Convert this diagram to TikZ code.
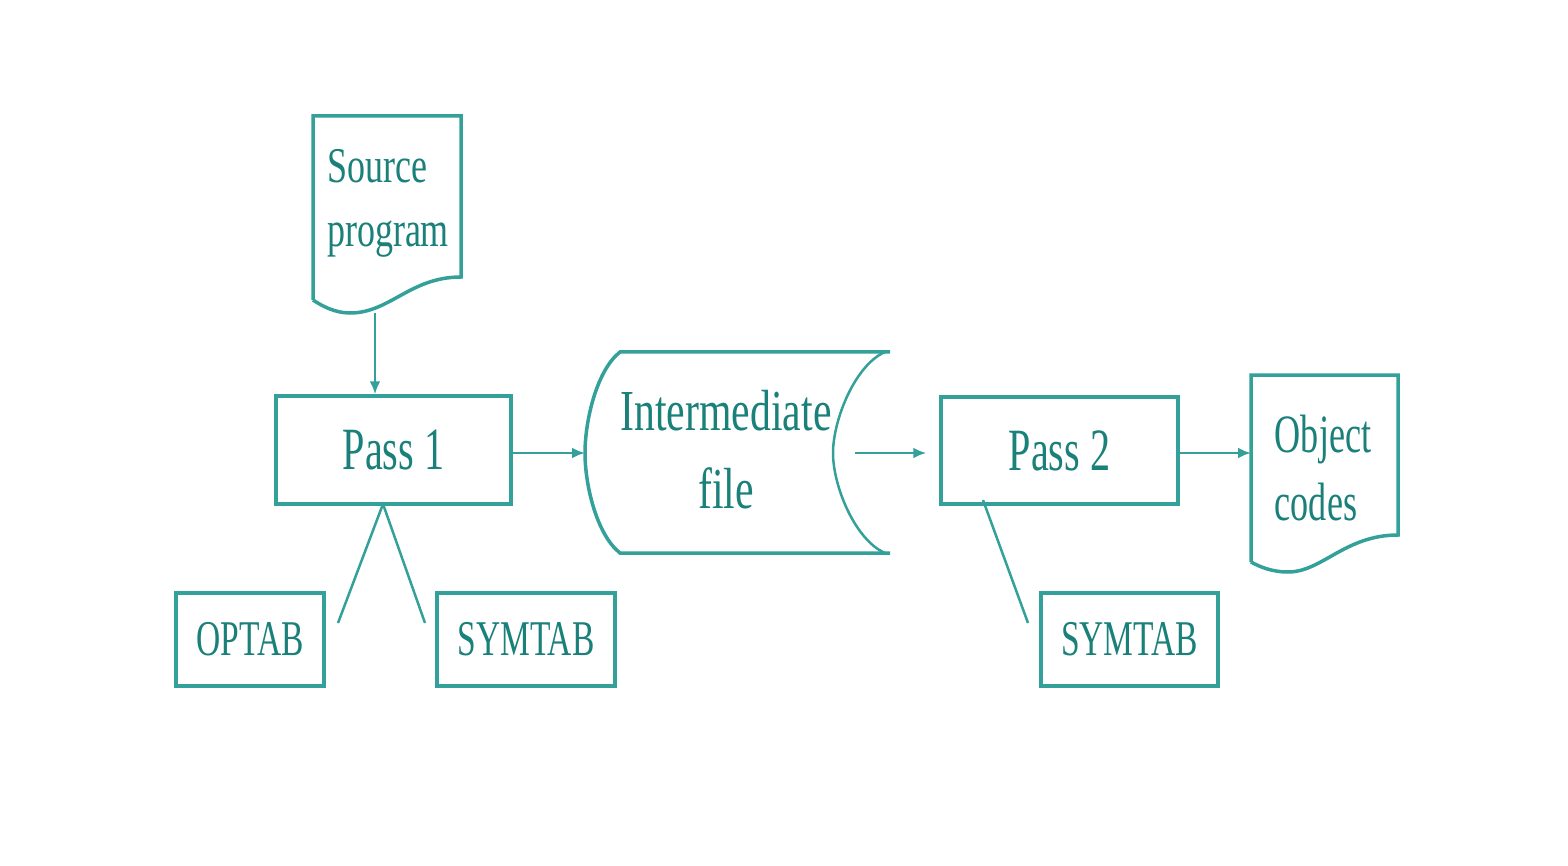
\documentclass[tikz,border=0pt]{standalone}
\usepackage{fontspec}
\setmainfont{Liberation Serif}[FakeStretch=0.67]
\newfontfamily\widefam{Liberation Serif}[FakeStretch=0.72]
\usetikzlibrary{arrows.meta}
\definecolor{lc}{RGB}{52,160,154}
\definecolor{tc}{RGB}{26,128,122}
\tikzset{
  boxnode/.style={draw=lc, line width=3.5pt, inner sep=0pt, text=tc},
  docline/.style={draw=lc, line width=3.5pt, line join=miter},
  conn/.style={draw=lc, line width=2.5pt},
  arr/.style={conn, -{Latex[length=13pt,width=11pt]}},
  txt/.style={text=tc, inner sep=0pt, align=center},
}
\begin{document}
\begin{tikzpicture}[x=1pt,y=-1pt]
\useasboundingbox[fill=white] (0,0) rectangle (1568,866);
% Source program document
\draw[docline] (313,300) -- (313,116) -- (461,116) -- (461,277)
  .. controls (410,277) and (390,313) .. (350,313)
  .. controls (335,313) and (322,306) .. (313,300);
\node[txt, align=left, font=\widefam\fontsize{50}{64}\selectfont] (src) at (388,203) {Source\\program};
\coordinate (srcb) at (375,313);
% Pass 1
\node[boxnode, minimum width=235pt, minimum height=108pt, font=\fontsize{60}{66}\selectfont] (p1) at (393.5,450) {Pass 1};
% Intermediate file
\draw[docline] (890,352) -- (620,352)
  .. controls (597,370) and (585,420) .. (585,453)
  .. controls (585,486) and (597,535) .. (620,553) -- (890,553);
\draw[conn] (885,352) .. controls (855,365) and (833,420) .. (833,453)
  .. controls (833,486) and (855,540) .. (885,553);
\node[txt, font=\widefam\fontsize{58}{78}\selectfont] (imf) at (726,450) {Intermediate\\file};
\coordinate (imfL) at (585,453);
\coordinate (imfR) at (855,453);
% Pass 2
\node[boxnode, minimum width=237pt, minimum height=107pt, font=\fontsize{60}{66}\selectfont] (p2) at (1059.5,450.5) {Pass 2};
% Object codes document
\draw[docline] (1251,562) -- (1251,375) -- (1398,375) -- (1398,535)
  .. controls (1345,535) and (1322,572) .. (1288,572)
  .. controls (1272,572) and (1260,567) .. (1251,562);
\node[txt, align=left, font=\fontsize{54}{68}\selectfont] (obj) at (1323,468) {Object\\codes};
\coordinate (objL) at (1251,453);
% tables
\node[boxnode, minimum width=148pt, minimum height=93pt, font=\fontsize{50}{60}\selectfont] (optab) at (250,639.5) {OPTAB};
\node[boxnode, minimum width=178pt, minimum height=93pt, font=\fontsize{50}{60}\selectfont] (sym1) at (526,639.5) {SYMTAB};
\node[boxnode, minimum width=177pt, minimum height=93pt, font=\fontsize{50}{60}\selectfont] (sym2) at (1129.5,639.5) {SYMTAB};
% free ends of the table links
\coordinate (p1a) at (383,504);
\coordinate (optabEnd) at (338,623);
\coordinate (sym1End) at (425,623);
\coordinate (p2a) at (983,500);
\coordinate (sym2End) at (1028,623);
% connectors
\draw[arr] (srcb) -- (srcb |- p1.north);
\draw[arr] (p1.east |- imfL) -- (imfL);
\draw[arr] (imfR) -- ([xshift=-13pt]p2.west |- imfR);
\draw[arr] (p2.east |- objL) -- (objL);
\draw[conn] (p1a) -- (optabEnd);
\draw[conn] (p1a) -- (sym1End);
\draw[conn] (p2a) -- (sym2End);
\end{tikzpicture}
\end{document}
